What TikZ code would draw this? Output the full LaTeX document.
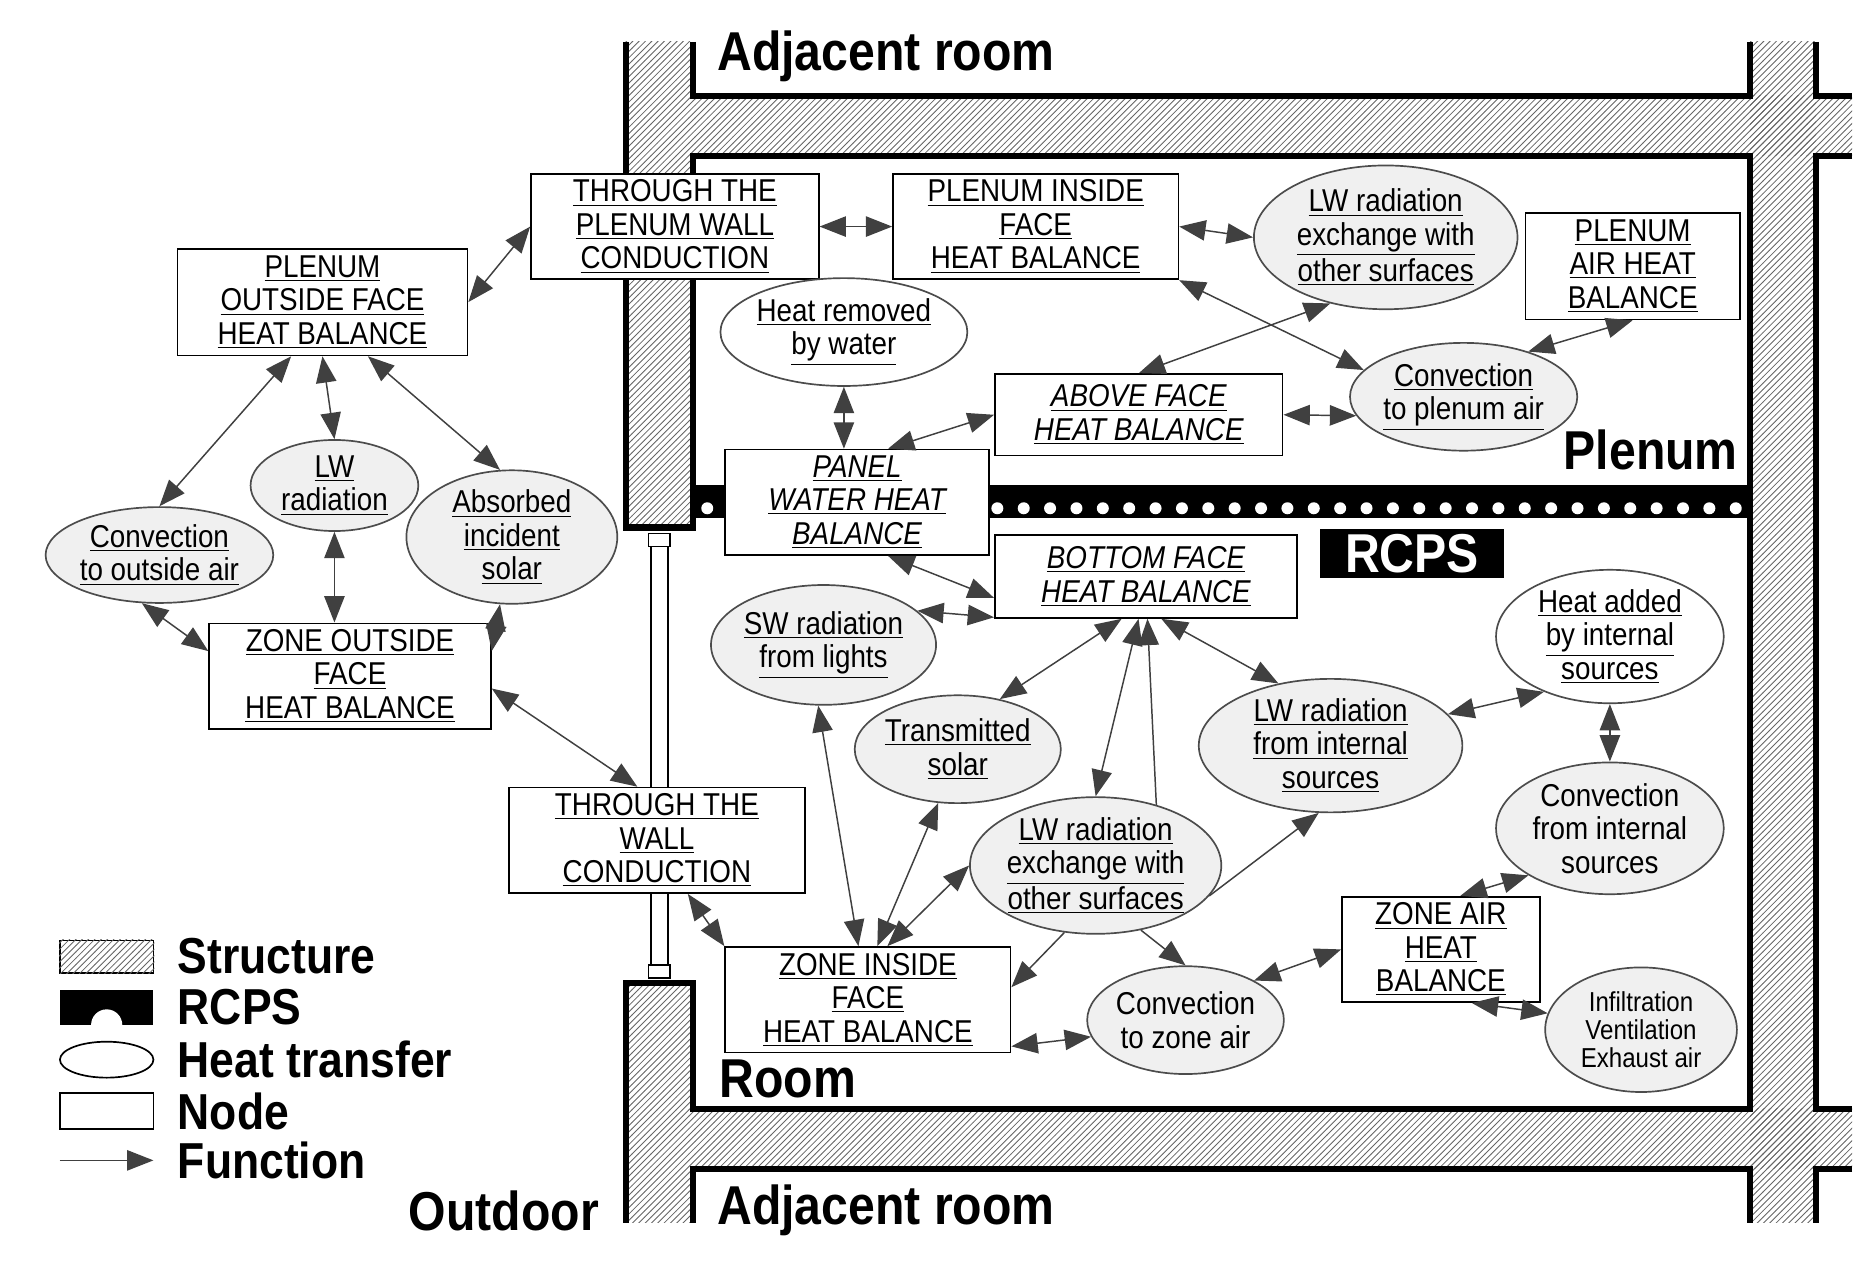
\documentclass[tikz,border=0pt]{standalone}
\usepackage{fontspec}
\setmainfont{Liberation Sans}[FakeStretch=0.88]
\usetikzlibrary{shapes.geometric,arrows.meta,patterns}
\newcommand\U[1]{\underline{#1}}
\begin{document}
\begin{tikzpicture}[x=0.02cm,y=-0.02cm,
  bx/.style 2 args={draw,thick,fill=white,inner sep=0pt,align=center,minimum width=#1*0.02cm,minimum height=#2*0.02cm,font=\fontsize{15pt}{15.9pt}\selectfont},
  el/.style 2 args={ellipse,draw=black!70,thick,fill=gray!12,inner sep=0pt,align=center,minimum width=#1*0.04cm,minimum height=#2*0.04cm,font=\fontsize{15pt}{15.9pt}\selectfont},
  dbl/.style={{Triangle[length=0.44cm,width=0.34cm]}-{Triangle[length=0.44cm,width=0.34cm]},draw=black!75,fill=black!75,line width=0.7pt},
  sgl/.style={-{Triangle[length=0.44cm,width=0.34cm]},draw=black!75,fill=black!75,line width=0.7pt},
  wall/.style={line width=3pt},
  hatch/.style={pattern=north east lines,pattern color=black!60},
  big/.style={font=\fontsize{26pt}{28pt}\bfseries\selectfont,inner sep=0pt},
  lg/.style={font=\fontsize{24pt}{26pt}\bfseries\selectfont,inner sep=0pt,anchor=west}]
\useasboundingbox (0,0) rectangle (1560,1063);
% structure
\fill[hatch] (522,35) rectangle (578,440);
\fill[hatch] (578,80) rectangle (1545,130);
\fill[hatch] (1460,35) rectangle (1515,1020);
\fill[hatch] (578,925) rectangle (1545,975);
\fill[hatch] (522,820) rectangle (578,1020);
\draw[wall] (522,35)--(522,440)--(578,440)--(578,130)--(1460,130)--(1460,925)--(578,925)--(578,820)--(522,820)--(522,1020);
\draw[wall] (578,35)--(578,80)--(1460,80)--(1460,35);
\draw[wall] (578,1020)--(578,975)--(1460,975)--(1460,1020);
\draw[wall] (1515,35)--(1515,80)--(1545,80);
\draw[wall] (1545,130)--(1515,130)--(1515,925)--(1545,925);
\draw[wall] (1545,975)--(1515,975)--(1515,1020);
\draw[thick] (543,450)--(543,810) (557,450)--(557,810);
\draw[thick,fill=white] (541,445) rectangle (559,456);
\draw[thick,fill=white] (541,805) rectangle (559,816);
\fill (578,405) rectangle (1460,432);
\foreach \i in {0,...,39} \fill[white] (590+\i*22,424) circle[radius=5];
% labels
\node[big,anchor=west] (adj1) at (598,47) {Adjacent room};
\node[big,anchor=west] (adj2) at (598,1010) {Adjacent room};
\node[big,anchor=east] (plen) at (1450,375) {Plenum};
\node[big,anchor=west] (room) at (600,900) {Room};
\node[big,anchor=east] (outd) at (500,1010) {Outdoor};
\node[big,fill=black,text=white,minimum width=3.06cm,minimum height=0.82cm] (rcps) at (1178,462) {RCPS};
% legend
\node[draw,thick,fill=white,minimum width=1.56cm,minimum height=0.54cm,inner sep=0pt] (ls) at (89,798) {};
\fill[hatch] (ls.south west) rectangle (ls.north east);
\fill (50,826) rectangle (128,855);
\fill[white] (89,855) circle[radius=13];
\draw[thick] (89,884) ellipse[x radius=39,y radius=15];
\draw[thick] (50,912) rectangle (128,942);
\coordinate (fa) at (50,968); \coordinate (fb) at (128,968);
\draw[sgl] (fa) -- (fb);
\node[lg] (l1) at (148,798) {Structure};
\node[lg] (l2) at (148,840) {RCPS};
\node[lg] (l3) at (148,884) {Heat transfer};
\node[lg] (l4) at (148,927) {Node};
\node[lg] (l5) at (148,968) {Function};
% nodes
\node[bx={242}{89}] (pof) at (269,252) {\U{PLENUM}\\\U{OUTSIDE FACE}\\\U{HEAT BALANCE}};
\node[bx={240}{88}] (tpw) at (563,189) {\U{THROUGH THE}\\\U{PLENUM WALL}\\\U{CONDUCTION}};
\node[bx={238}{88}] (pif) at (864,189) {\U{PLENUM INSIDE}\\\U{FACE}\\\U{HEAT BALANCE}};
\node[bx={179}{89}] (pah) at (1362,222) {\U{PLENUM}\\\U{AIR HEAT}\\\U{BALANCE}};
\node[bx={240}{68},font=\fontsize{15pt}{15.9pt}\itshape] (afh) at (950,346) {\U{ABOVE FACE}\\\U{HEAT BALANCE}};
\node[bx={220}{88},font=\fontsize{15pt}{15.9pt}\itshape] (pwh) at (715,419) {\U{PANEL}\\\U{WATER HEAT}\\\U{BALANCE}};
\node[bx={252}{69},font=\fontsize{15pt}{15.9pt}\itshape] (bfh) at (956,481) {\U{BOTTOM FACE}\\\U{HEAT BALANCE}};
\node[bx={235}{88}] (zof) at (292,564) {\U{ZONE OUTSIDE}\\\U{FACE}\\\U{HEAT BALANCE}};
\node[bx={247}{88}] (twc) at (548,701) {\U{THROUGH THE}\\\U{WALL}\\\U{CONDUCTION}};
\node[bx={238}{88}] (zif) at (724,834) {\U{ZONE INSIDE}\\\U{FACE}\\\U{HEAT BALANCE}};
\node[bx={165}{88}] (zah) at (1202,792) {\U{ZONE AIR}\\\U{HEAT}\\\U{BALANCE}};
\node[el={110}{60}] (lwp) at (1156,198) {\U{LW radiation}\\\U{exchange with}\\\U{other surfaces}};
\node[el={98}{45},fill=white] (hrw) at (704,277) {\U{Heat removed}\\\U{by water}};
\node[el={90}{45}] (cpa) at (1221,331) {\U{Convection}\\\U{to plenum air}};
\node[el={70}{38}] (lwl) at (279,405) {\U{LW}\\\U{radiation}};
\node[el={88}{52}] (abs) at (427,448) {\U{Absorbed}\\\U{incident}\\\U{solar}};
\node[el={95}{40}] (cvo) at (133,463) {\U{Convection}\\\U{to outside air}};
\node[el={90}{50}] (swl) at (687,538) {\U{SW radiation}\\\U{from lights}};
\node[el={85}{45}] (tso) at (799,625) {\U{Transmitted}\\\U{solar}};
\node[el={110}{55}] (lwi) at (1110,622) {\U{LW radiation}\\\U{from internal}\\\U{sources}};
\node[el={95}{50},fill=white] (hai) at (1343,531) {\U{Heat added}\\\U{by internal}\\\U{sources}};
\node[el={95}{55}] (cfi) at (1343,691) {Convection\\from internal\\sources};
\node[el={100}{57}] (lwx) at (914,722) {\U{LW radiation}\\\U{exchange with}\\\U{other surfaces}};
\node[el={80}{45}] (czl) at (989,851) {Convection\\to zone air};
\node[el={80}{52},font=\fontsize{13pt}{13.5pt}\selectfont] (ive) at (1369,859) {Infiltration\\Ventilation\\Exhaust air};
% connectors
\draw[dbl] (pof.east) -- (tpw.west);
\draw[dbl] (tpw.east) -- (pif.west);
\draw[dbl] (pif.east) -- (lwp.west);
\draw[dbl] (pif.south east) -- (cpa.165);
\draw[dbl] (lwp.230) -- (afh.north);
\draw[dbl] (pah.south) -- (cpa.35);
\draw[dbl] (afh.east) -- (cpa.190);
\draw[dbl] (hrw.south) -- (hrw.south |- pwh.north);
\draw[dbl] (pwh.60) -- (afh.west);
\draw[dbl] (pwh.-60) -- (bfh.-172);
\draw[dbl] (swl.20) -- (bfh.-165);
\draw[dbl] (tso.50) -- (bfh.-120);
\draw[dbl] (lwx.north) -- (bfh.-100);
\draw[sgl] (lwx.45) -- (bfh.-88);
\draw[dbl] (bfh.-70) -- (lwi.130);
\draw[dbl] (lwi.15) -- (hai.-140);
\draw[dbl] (hai.south) -- (cfi.north);
\draw[dbl] (cfi.-150) -- (zah.70);
\draw[dbl] (czl.30) -- (zah.west);
\draw[dbl] (zah.-60) -- (ive.170);
\draw[dbl] (zif.-18) -- (czl.190);
\draw[sgl] (lwx.-115) -- (zif.5);
\draw[sgl] (lwx.-15) -- (lwi.-100);
\draw[dbl] (lwx.180) -- (zif.70);
\draw[sgl] (lwx.-55) -- (czl.north);
\draw[dbl] (tso.-110) -- (zif.80);
\draw[dbl] (swl.-95) -- (zif.100);
\draw[dbl] (twc.-60) -- (zif.north west);
\draw[dbl] (twc.110) -- (zof.-5);
\draw[dbl] (zof.10) -- (abs.-100);
\draw[dbl] (lwl.south) -- (lwl.south |- zof.north);
\draw[dbl] (zof.170) -- (cvo.-110);
\draw[dbl] (pof.-120) -- (cvo.north);
\draw[dbl] (pof.south) -- (lwl.north);
\draw[dbl] (pof.-50) -- (abs.100);
\end{tikzpicture}
\end{document}
